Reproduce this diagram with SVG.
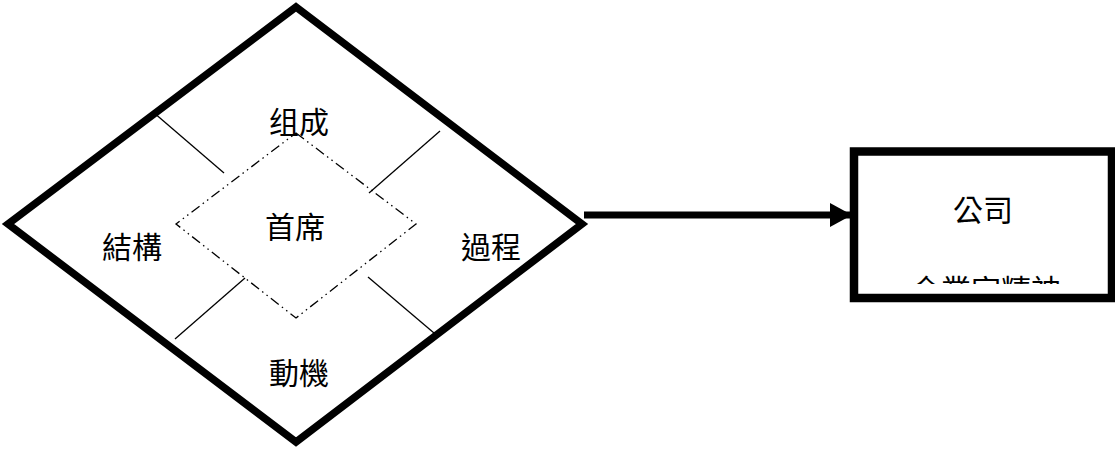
<svg xmlns="http://www.w3.org/2000/svg" width="1115" height="450" viewBox="0 0 1115 450">
<style>
.t{font-family:"Liberation Sans","Noto Sans CJK TC","Noto Sans CJK SC",sans-serif;font-size:30px;fill:#000;text-anchor:middle}
.thick{fill:none;stroke:#000;stroke-width:7.5;stroke-linejoin:miter}
.thin{stroke:#000;stroke-width:1.3;fill:none}
.dd{fill:none;stroke:#000;stroke-width:1.3;stroke-dasharray:10 4 1.5 4 1.5 4}
</style>
<defs>
<marker id="ah" markerUnits="userSpaceOnUse" markerWidth="22" markerHeight="24" refX="21" refY="12" orient="auto"><path d="M0,0 L22,12 L0,24 Z" fill="#000"/></marker>
<clipPath id="boxclip"><rect x="858" y="156" width="250" height="128"/></clipPath>
</defs>
<g id="outer-diamond">
<polygon class="thick" points="296,7 582,224 296,442 8,224"/>
</g>
<g id="dividers">
<line class="thin" x1="153" y1="112" x2="224" y2="173"/>
<line class="thin" x1="440" y1="131" x2="369" y2="193"/>
<line class="thin" x1="245" y1="278" x2="175" y2="339"/>
<line class="thin" x1="368" y1="277" x2="434" y2="333"/>
</g>
<g id="inner-diamond">
<polygon class="dd" points="296,133 416,224 296,318 176,224"/>
<text class="t" x="295" y="238">首席</text>
</g>
<g id="n-zucheng"><text class="t" x="299" y="133">组成</text></g>
<g id="n-jiegou"><text class="t" x="132" y="258">結構</text></g>
<g id="n-guocheng"><text class="t" x="491" y="258">過程</text></g>
<g id="n-dongji"><text class="t" x="299" y="384">動機</text></g>
<g id="connectors">
<line x1="584" y1="215" x2="851" y2="215" stroke="#000" stroke-width="7" marker-end="url(#ah)"/>
</g>
<g id="n-company">
<rect x="854" y="151.5" width="258" height="146.5" fill="#fff" stroke="#000" stroke-width="8.5"/>
<text class="t" x="983" y="221">公司</text>
<text class="t" x="986" y="301" clip-path="url(#boxclip)">企業家精神</text>
</g>
</svg>
